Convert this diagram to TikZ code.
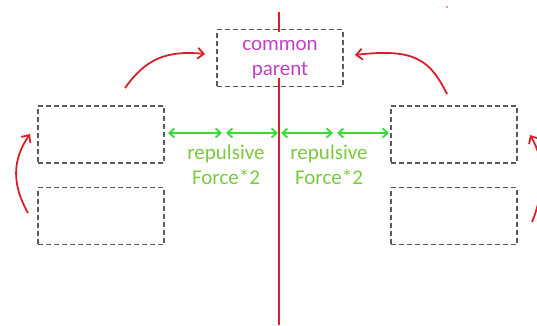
\documentclass[tikz,border=0pt]{standalone}
\usepackage{fontspec}
\setmainfont{Carlito}
\usetikzlibrary{arrows.meta}
\definecolor{boxgray}{HTML}{5A5A5A}
\definecolor{redline}{HTML}{D9202A}
\definecolor{arrgreen}{HTML}{33DD33}
\definecolor{txtgreen}{HTML}{7CC840}
\definecolor{magent}{HTML}{C040C8}
\tikzset{
  dbox/.style={draw=boxgray, line width=1.5pt, dash pattern=on 5pt off 3pt, minimum width=126pt, minimum height=57pt, inner sep=0pt},
  redarr/.style={draw=redline, line width=1.8pt, -{Straight Barb[length=6pt,width=11pt]}},
  greenarr/.style={draw=arrgreen, line width=1.8pt, {Straight Barb[length=5pt,width=9pt]}-{Straight Barb[length=5pt,width=9pt]}},
  forcetxt/.style={text=txtgreen, align=center, font=\fontsize{21}{25}\selectfont},
}
\begin{document}
\begin{tikzpicture}[x=1pt,y=-1pt]
\useasboundingbox (0,0) rectangle (537,325);
% central red line
\coordinate (ltop) at (279,12);
\coordinate (ltopend) at (279,32);
\coordinate (lbot) at (279,78);
\coordinate (lbotend) at (279,325);
\draw[redline, line width=1.6pt] (ltop) -- (ltopend);
\draw[redline, line width=1.6pt] (lbot) -- (lbotend);
% boxes
\node[dbox] (parent) at (280,58) {};
\node[text=magent, align=center, font=\fontsize{21}{25}\selectfont] (ptext) at (280,60) {common\\parent};
\node[dbox] (lt) at (101,134.5) {};
\node[dbox] (lb) at (101,216) {};
\node[dbox] (rt) at (454,134.5) {};
\node[dbox] (rb) at (454,216) {};
% green arrows
\coordinate (g1) at (168,133);
\coordinate (g2) at (224,133);
\coordinate (g3) at (278,133);
\coordinate (g4) at (281,133);
\coordinate (g5) at (335,133);
\coordinate (g6) at (389,133);
\draw[greenarr] (g1) -- ([xshift=-2pt]g2);
\draw[greenarr] ([xshift=2pt]g2) -- (g3);
\draw[greenarr] (g4) -- ([xshift=-2pt]g5);
\draw[greenarr] ([xshift=2pt]g5) -- (g6);
\node[forcetxt] (f1) at (226,165) {repulsive\\Force*2};
\node[forcetxt] (f2) at (329,165) {repulsive\\Force*2};
% red curved arrows
\coordinate (a1s) at (125,88);
\coordinate (a1e) at (205,54);
\draw[redarr] (a1s) .. controls (145,60) and (165,50) .. (a1e);
\coordinate (a2s) at (447,94);
\coordinate (a2e) at (355,55);
\draw[redarr] (a2s) .. controls (430,60) and (415,48) .. (a2e);
\coordinate (a3s) at (28,213);
\coordinate (a3e) at (30,134);
\draw[redarr] (a3s) .. controls (12,185) and (12,160) .. (a3e);
\coordinate (a4s) at (532,222);
\coordinate (a4e) at (530,135);
\draw[redarr] (a4s) .. controls (545,190) and (545,160) .. (a4e);
% small dot
\fill[redline] (447,7) circle (0.9pt);
\end{tikzpicture}
\end{document}
